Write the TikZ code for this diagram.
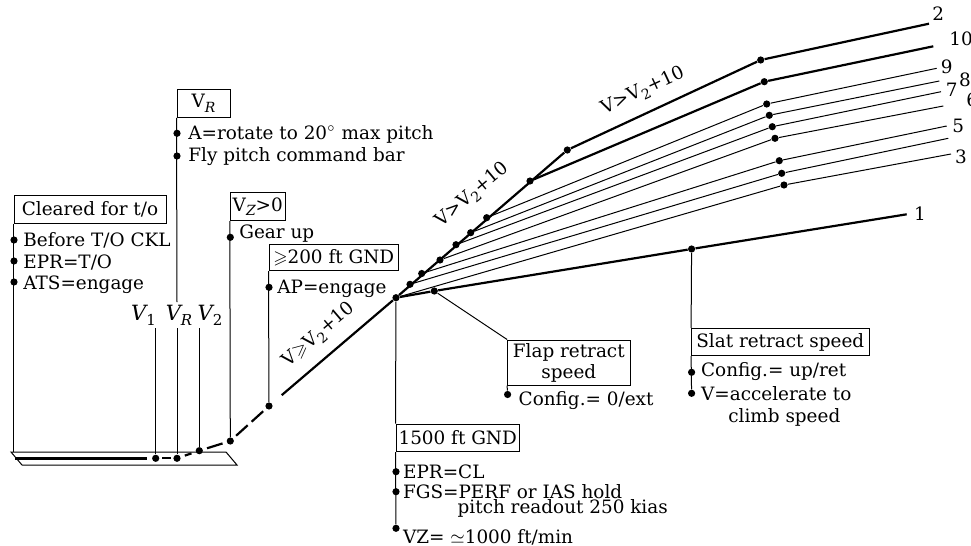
\documentclass[tikz,border=0pt]{standalone}
\usepackage{amssymb}
\usepackage{fontspec}
\setmainfont{DejaVu Serif}
\usetikzlibrary{calc}
\newcommand\mysub[1]{\raisebox{-2.3pt}{\fontsize{7}{8}\selectfont #1}}
\newcommand\vlab[1]{{\fontsize{10.5}{12}\selectfont\itshape V}\raisebox{-2.5pt}{\fontsize{7.5}{8}\selectfont #1}}
\begin{document}
\begin{tikzpicture}[x=0.5pt,y=-0.5pt,
  every node/.style={font=\fontsize{9.2}{11}\selectfont},
  dot/.style={circle,fill,inner sep=0pt,minimum size=3.6pt},
  box/.style={draw,line width=0.5pt,inner sep=0pt},
  lbl/.style={anchor=base west,inner sep=0pt},
  num/.style={inner sep=0pt},
  thinln/.style={line width=0.5pt},
  thickln/.style={line width=1.1pt},
]
\useasboundingbox (0,0) rectangle (971,546);

% ---------- boxes
\node[box,minimum width=76pt,minimum height=14pt] (clr) at (90,209) {Cleared for t/o};
\node[box,minimum width=26.6pt,minimum height=14pt] (vr) at (203.6,103.3) {V\mysub{\itshape R}};
\node[box,minimum width=27.5pt,minimum height=14pt] (vz) at (257.8,206.7) {V\mysub{\itshape Z}>0};
\node[box,minimum width=64.7pt,minimum height=13.3pt] (g200) at (333.7,257.3) {$\geqslant$200 ft GND};
\node[box,minimum width=61.2pt,minimum height=22.5pt,align=center,font=\fontsize{9.2}{10.5}\selectfont] (flap) at (568.8,362.5) {Flap retract\\speed};
\node[box,minimum width=88.7pt,minimum height=13.7pt] (slat) at (780.3,342) {Slat retract speed};
\node[box,minimum width=61.7pt,minimum height=13.8pt] (g1500) at (457.7,437.8) {1500 ft GND};

% ---------- runway
\coordinate (rwA) at (11,452);
\coordinate (rwB) at (226,452);
\coordinate (rwC) at (237,465);
\coordinate (rwD) at (22,465);
\draw[thinln] (rwA) -- (rwB) -- (rwC) -- (rwD) -- cycle;
\coordinate (rw1) at (15,458.5);
\coordinate (rw2) at (147,458.5);
\draw[thickln] (rw1) -- (rw2);

% ---------- take-off path dots
\node[dot] (dV1) at (155.7,458.3) {};
\node[dot] (dVR) at (177,458.3) {};
\node[dot] (dV2) at (199.3,450.7) {};
\node[dot] (dVz) at (230.3,441) {};
\node[dot] (dAP) at (269,406) {};
\node[dot] (O) at (396,297.7) {};

\draw[thickln] ($(dV1)!0.3!(dVR)$) -- ($(dV1)!0.7!(dVR)$);
\draw[thickln] ($(dVR)!0.35!(dV2)$) -- ($(dVR)!0.65!(dV2)$);
\draw[thickln] ($(dV2)!0.25!(dVz)$) -- ($(dV2)!0.75!(dVz)$);
\draw[thickln] ($(dVz)!0.15!(dAP)$) -- ($(dVz)!0.45!(dAP)$);
\draw[thickln] ($(dVz)!0.55!(dAP)$) -- ($(dVz)!0.85!(dAP)$);
\draw[thickln] ($(dAP)!0.1!(O)$) -- (O);

\node[rotate=40.6] (slope1) at (319,335) {V$\geqslant$V\mysub{2}+10};

% ---------- cleared for t/o
\draw[thinln] (clr.south west) -- (clr.south west |- rwA);
\node[dot] (c1) at (14,240) {};
\node[dot] (c2) at (14,261) {};
\node[dot] (c3) at (14,282) {};
\node[lbl] (tc1) at (23,246.5) {Before T/O CKL};
\node[lbl] (tc2) at (23,268) {EPR=T/O};
\node[lbl] (tc3) at (23,289) {ATS=engage};

% ---------- V1 VR V2
\coordinate (vrgap1) at (177,302);
\coordinate (vrgap2) at (177,328);
\coordinate (v1top) at (155.7,328);
\coordinate (v2top) at (199.3,328);
\draw[thinln] (vr.south west) -- (vrgap1);
\draw[thinln] (vrgap2) -- (dVR);
\draw[thinln] (v1top) -- (dV1);
\draw[thinln] (v2top) -- (dV2);
\node[num,anchor=base] (lv1) at (143.5,320) {\vlab{1}};
\node[num,anchor=base] (lvr) at (179,320) {\vlab{\itshape R}};
\node[num,anchor=base] (lv2) at (210,320) {\vlab{2}};
\node[dot] (r1) at (177,133.3) {};
\node[dot] (r2) at (177,156) {};
\node[lbl] (tr1) at (188,139.5) {A=rotate to 20$^\circ$ max pitch};
\node[lbl] (tr2) at (188,162) {Fly pitch command bar};

% ---------- Vz>0
\draw[thinln] (vz.south west) -- (dVz);
\node[dot] (z1) at (230.3,237.3) {};
\node[lbl] (tz1) at (239,238.5) {Gear up};

% ---------- >200 ft
\draw[thinln] (g200.south west) -- (dAP);
\node[dot] (a1) at (269,287.3) {};
\node[lbl] (ta1) at (277,293.5) {AP=engage};

% ---------- 1500 ft
\node[dot] (p1) at (396,471.7) {};
\node[dot] (p2) at (396,491.7) {};
\node[dot] (p3) at (396,528.3) {};
\draw[thinln] (O) -- (g1500.north west);
\draw[thinln] (g1500.south west) -- (p3);
\node[lbl] (tp1) at (402.7,478.3) {EPR=CL};
\node[lbl] (tp2) at (402.7,498.3) {FGS=PERF or IAS hold};
\node[lbl] (tp2b) at (457.3,513) {pitch readout 250 kias};
\node[lbl] (tp3) at (402.7,543) {VZ= $\simeq$1000 ft/min};

% ---------- fan
\node[dot] (s4) at (410,284.3) {};
\node[dot] (s5) at (421.7,273.5) {};
\node[dot] (s6) at (440,260) {};
\node[dot] (s7) at (456,244.7) {};
\node[dot] (s8) at (470.7,232.7) {};
\node[dot] (s9) at (486.7,217.7) {};
\node[dot] (s10) at (530,181) {};
\node[dot] (s2) at (567.3,150) {};

\node[dot] (m2) at (760.7,60) {};
\node[dot] (m10) at (764.3,81.7) {};
\node[dot] (m9) at (766.7,104) {};
\node[dot] (m8) at (769.3,115.3) {};
\node[dot] (m7) at (772.3,126.7) {};
\node[dot] (m6) at (775,138.3) {};
\node[dot] (m5) at (779.3,160.7) {};
\node[dot] (m4) at (781.7,173.3) {};
\node[dot] (m3) at (784,185) {};

\coordinate (e2) at (929,23.7);
\coordinate (e10) at (933.3,46.3);
\coordinate (e9) at (936.7,68.3);
\coordinate (e8) at (939.3,81);
\coordinate (e7) at (941,91.7);
\coordinate (e6) at (943.3,106);
\coordinate (e5) at (946.7,126);
\coordinate (e4) at (948.3,138.3);
\coordinate (e3) at (951,154);

\draw[thickln] (O) -- (s2) -- (m2) -- (e2);
\draw[thickln] (s10) -- (m10) -- (e10);
\draw[thinln] (s9) -- (m9) -- (e9);
\draw[thinln] (s8) -- (m8) -- (e8);
\draw[thinln] (s7) -- (m7) -- (e7);
\draw[thinln] (s6) -- (m6) -- (e6);
\draw[thinln] (s5) -- (m5) -- (e5);
\draw[thinln] (s4) -- (m4) -- (e4);
\draw[thinln] (O) -- (m3) -- (e3);

\node[num] (n2) at (938.3,14) {2};
\node[num] (n10) at (961,39.3) {10};
\node[num] (n9) at (946.7,66.7) {9};
\node[num] (n8) at (965,80) {8};
\node[num] (n7) at (951.7,90) {7};
\node[num,anchor=west] (n6) at (966,100) {6};
\node[num] (n5) at (958.3,126) {5};
\node[num] (n3) at (961,156.7) {3};

\node[rotate=40] (slope2) at (472.5,195) {V>V\mysub{2}+10};
\node[rotate=25] (slope3) at (643,91) {V>V\mysub{2}+10};

% ---------- line 1
\node[dot] (dF) at (434.3,291) {};
\node[dot] (dS) at (691.6,249) {};
\coordinate (e1) at (906.7,214.3);
\draw[thickln] (O) -- (dF) -- (dS) -- (e1);
\node[num] (n1) at (920,213.3) {1};

% ---------- flap retract
\draw[thinln] (dF) -- (flap.north west);
\node[dot] (f1) at (507.6,394.5) {};
\draw[thinln] (flap.south west) -- (f1);
\node[lbl] (tf1) at (518.3,405) {Config.= 0/ext};

% ---------- slat retract
\draw[thinln] (dS) -- (slat.north west);
\node[dot] (sl1) at (691.6,372.3) {};
\node[dot] (sl2) at (691.6,393.3) {};
\draw[thinln] (slat.south west) -- (sl2);
\node[lbl] (ts1) at (700.7,376.7) {Config.= up/ret};
\node[lbl] (ts2) at (700.7,400) {V=accelerate to};
\node[lbl] (ts3) at (728,422.7) {climb speed};
\end{tikzpicture}
\end{document}
